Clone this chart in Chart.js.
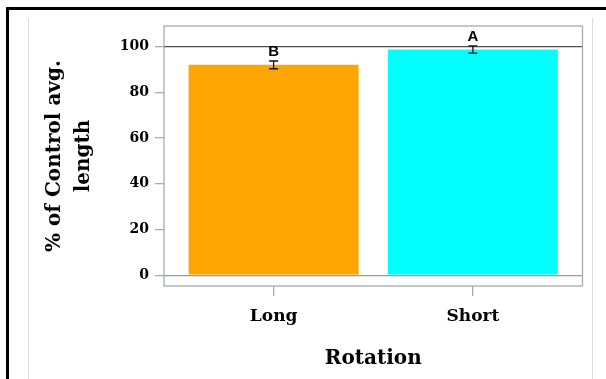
<!DOCTYPE html>
<html>
<head>
<meta charset="utf-8">
<script src="https://cdn.jsdelivr.net/npm/chart.js@4"></script>
<style>
    body { margin: 0; background: #fff; }
    #wrap { width: 606px; height: 379px; position: relative; }
</style>
</head>
<body>
<div id="wrap"><canvas id="barChart"></canvas></div>
<script>
const categories = ['Long', 'Short'];
const meanValues = [92, 98.7];
const errValues = [1.7, 1.6];
const sigLetters = ['B', 'A'];
const barColors = ['#FFA500', '#00FFFF'];
const yTickValues = [0, 20, 40, 60, 80, 100];

const frameGray = '#a7abaf';
const textColor = '#000';

// page border + light side rules, painted under the chart
const pageFrame = {
    id: 'pageFrame',
    beforeDraw(chart) {
        const ctx = chart.ctx;
        ctx.save();
        ctx.fillStyle = '#fff';
        ctx.fillRect(0, 0, chart.width, chart.height);
        ctx.fillStyle = '#000';
        ctx.fillRect(6, 7, chart.width - 6, 3);
        ctx.fillRect(6, 7, 3, chart.height - 7);
        ctx.fillStyle = '#dcdcdc';
        ctx.fillRect(28, 18, 1, chart.height - 18);
        ctx.fillRect(592, 18, 1, chart.height - 18);
        ctx.restore();
    }
};

// plot box, error bars and letters
const plotExtras = {
    id: 'plotExtras',
    afterDatasetsDraw(chart) {
        const ctx = chart.ctx;
        const area = chart.chartArea;
        const x = chart.scales.x;
        const y = chart.scales.y;
        ctx.save();
        ctx.strokeStyle = frameGray;
        ctx.lineWidth = 1.3;
        ctx.strokeRect(area.left, area.top, area.right - area.left, area.bottom - area.top);

        ctx.strokeStyle = '#111';
        ctx.lineWidth = 1.3;
        ctx.fillStyle = textColor;
        ctx.font = 'bold 15px "Liberation Sans", Arial, sans-serif';
        ctx.textAlign = 'center';
        ctx.textBaseline = 'middle';
        categories.forEach((c, i) => {
            const px = x.getPixelForValue(i);
            const top = y.getPixelForValue(meanValues[i] + errValues[i]);
            const bot = y.getPixelForValue(meanValues[i] - errValues[i]);
            ctx.beginPath();
            ctx.moveTo(px, top); ctx.lineTo(px, bot);
            ctx.moveTo(px - 4.5, top); ctx.lineTo(px + 4.5, top);
            ctx.moveTo(px - 4.5, bot); ctx.lineTo(px + 4.5, bot);
            ctx.stroke();
            ctx.fillText(sigLetters[i], px, top - 9);
        });
        ctx.restore();
    }
};

const ctx = document.getElementById('barChart').getContext('2d');
new Chart(ctx, {
    type: 'bar',
    data: {
        datasets: [{
            data: categories.map((c, i) => ({ x: i, y: meanValues[i] })),
            backgroundColor: barColors,
            borderWidth: 0,
            categoryPercentage: 1,
            barPercentage: 0.853
        }]
    },
    options: {
        responsive: true,
        maintainAspectRatio: false,
        animation: false,
        layout: { padding: { left: 0, top: 26, right: 23.5, bottom: 0 } },
        plugins: { legend: { display: false }, tooltip: { enabled: false } },
        scales: {
            x: {
                type: 'linear',
                min: -0.55,
                max: 1.55,
                offset: false,
                afterBuildTicks: (scale) => { scale.ticks = categories.map((c, i) => ({ value: i })); },
                afterFit: (scale) => { scale.height = 93; },
                border: { display: false },
                grid: { offset: false, drawOnChartArea: false, tickLength: 10, color: frameGray, lineWidth: 1.3 },
                ticks: {
                    callback: (v) => categories[v] ?? '',
                    color: textColor,
                    padding: 10,
                    maxRotation: 0,
                    font: { family: '"DejaVu Serif", serif', size: 17, weight: 'bold' }
                },
                title: {
                    display: true,
                    text: 'Rotation',
                    color: textColor,
                    padding: { top: 0, bottom: 8 },
                    font: { family: '"DejaVu Serif", serif', size: 20, weight: 'bold' }
                }
            },
            y: {
                min: -4.7,
                max: 109,
                afterBuildTicks: (scale) => { scale.ticks = yTickValues.map(v => ({ value: v })); },
                afterFit: (scale) => { scale.width = 164; },
                border: { display: false },
                grid: {
                    drawOnChartArea: true,
                    tickLength: 9,
                    tickColor: frameGray,
                    lineWidth: 1.3,
                    color: (c) => c.tick && c.tick.value === 100 ? '#4d4d4d' : (c.tick && c.tick.value === 0 ? '#9a9a9a' : 'rgba(0,0,0,0)')
                },
                ticks: {
                    color: textColor,
                    padding: 6,
                    font: { family: '"DejaVu Serif", serif', size: 14, weight: 'bold' }
                },
                title: {
                    display: true,
                    text: ['% of Control avg.', 'length'],
                    color: textColor,
                    padding: { top: 40.5, bottom: 0 },
                    font: { family: '"DejaVu Serif", serif', size: 20, weight: 'bold', lineHeight: 1.45 }
                }
            }
        }
    },
    plugins: [pageFrame, plotExtras]
});
</script>
</body>
</html>
